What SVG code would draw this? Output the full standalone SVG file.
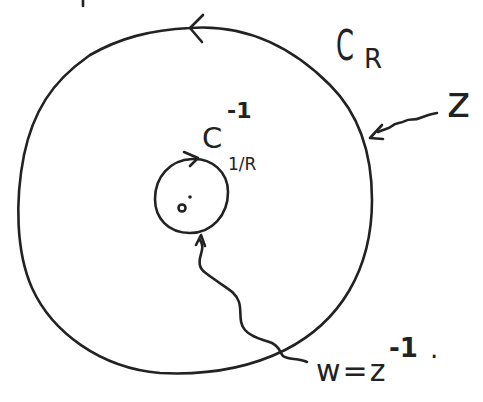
<svg xmlns="http://www.w3.org/2000/svg" width="483" height="402" viewBox="0 0 483 402">
<style>
.ln{fill:none;stroke:#222;stroke-width:2.6;stroke-linecap:round;stroke-linejoin:round}
.t{font-family:"DejaVu Sans","Liberation Sans",sans-serif;fill:#222}
</style>
<rect width="483" height="402" fill="#fff"/>
<g id="stray"><path class="ln" d="M83 0 L83 6"/></g>
<g id="outer-circle">
<path class="ln" d="M190 28 C245 24 290 45 330 85 C358 113 372 150 372 200 C372 270 340 322 285 350 C245 370 200 375 160 373 C100 368 52 332 32 288 C16 252 15 200 24 155 C33 112 52 82 86 58 L90 55 C120 38 150 30 190 28"/>
<path class="ln" d="M203 15 L190 28 L202 42"/>
</g>
<g id="inner-circle">
<path class="ln" d="M192 159 C212 158 228 172 228 192 C228 215 212 233 190 233 C168 233 155 218 155 199 C155 177 170 160 192 159"/>
<path class="ln" d="M184 152 L198 158 L190 166"/>
<circle cx="190" cy="197" r="1.8" fill="#222"/>
<circle cx="182" cy="208" r="3.5" class="ln" stroke-width="2.2"/>
</g>
<g id="connectors">
<path class="ln" d="M437 113 C430 114 425 116 420 118 C414 121 410 118 405 121 C400 124 396 122 392 126 C388 129 385 129 378 132"/>
<path class="ln" d="M382 125 L370 138 L383 139"/>
<path class="ln" d="M307 362 C298 358 288 360 283 356 C279 351 280 347 272 343 C262 339 252 338 245 330 C238 322 242 312 239 302 C236 292 226 288 214 279 C202 271 198 268 200 258 C202 250 204 246 200 240"/>
<path class="ln" d="M196 245 L201 235 L205 246"/>
</g>
<g id="labels">
<text class="t" x="336" y="60" font-size="42" textLength="18" lengthAdjust="spacingAndGlyphs">C</text>
<text class="t" x="364" y="68" font-size="26">R</text>
<text class="t" x="447" y="117" font-size="44">z</text>
<text class="t" x="202" y="148" font-size="29">C</text>
<text class="t" x="227" y="118" font-size="22" font-weight="bold">-1</text>
<text class="t" x="228" y="170" font-size="17">1/R</text>
<text class="t" x="316" y="381" font-size="30" letter-spacing="2">w=z</text>
<text class="t" x="389" y="357" font-size="26" font-weight="bold">-1</text>
<text class="t" x="430" y="358" font-size="26">.</text>
</g>
</svg>
